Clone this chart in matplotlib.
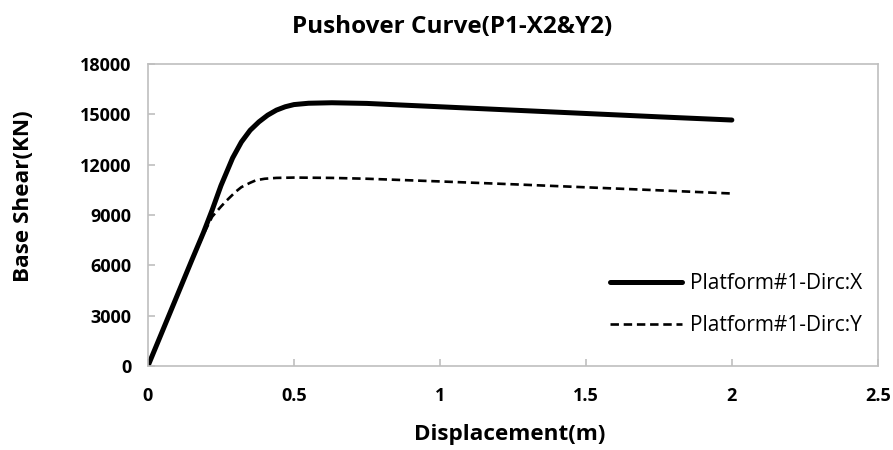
import matplotlib.pyplot as plt

plt.rcParams['font.family'] = ['Open Sans', 'DejaVu Sans']

# Platform#1 - direction X
disp_x = [0, 0.05, 0.1, 0.15, 0.19, 0.22, 0.25, 0.29, 0.32, 0.35, 0.38, 0.41,
          0.44, 0.47, 0.5, 0.55, 0.63, 0.75, 0.86, 1.0, 1.25, 1.5, 1.75, 2.0]
shear_x = [0, 2100, 4200, 6300, 7950, 9300, 10750, 12400, 13350, 14050, 14550,
           14950, 15250, 15450, 15580, 15660, 15690, 15650, 15560, 15450, 15250,
           15050, 14850, 14660]

# Platform#1 - direction Y
disp_y = [0, 0.05, 0.1, 0.15, 0.19, 0.22, 0.25, 0.27, 0.3, 0.32, 0.35, 0.37,
          0.4, 0.44, 0.5, 0.63, 0.75, 0.86, 1.0, 1.25, 1.5, 1.75, 2.0]
shear_y = [0, 2100, 4200, 6250, 7850, 8900, 9500, 9870, 10380, 10660, 10920,
           11070, 11160, 11210, 11230, 11210, 11160, 11090, 11000, 10830, 10650,
           10470, 10280]

x_ticks = [0, 0.5, 1, 1.5, 2, 2.5]
x_tick_labels = ['0', '0.5', '1', '1.5', '2', '2.5']
y_ticks = [0, 3000, 6000, 9000, 12000, 15000, 18000]

fig = plt.figure(figsize=(8.93, 4.5), dpi=100)
ax = fig.add_axes([0.1657, 0.1867, 0.8173, 0.6711])

ax.plot(disp_x, shear_x, color='black', lw=3.6, solid_capstyle='round',
        solid_joinstyle='round', label='Platform#1-Dirc:X')
ax.plot(disp_y, shear_y, color='black', lw=1.9, dashes=(3.2, 1.8),
        label='Platform#1-Dirc:Y')

ax.set_xlim(0, 2.5)
ax.set_ylim(0, 18000)
ax.set_xticks(x_ticks)
ax.set_xticklabels(x_tick_labels)
ax.set_yticks(y_ticks)

for s in ax.spines.values():
    s.set_color('#bfbfbf')
    s.set_linewidth(1.2)
ax.tick_params(direction='in', length=5, color='#bfbfbf', width=1.2,
               labelsize=13)
ax.tick_params(axis='y', pad=12)
ax.tick_params(axis='x', pad=15)
for lab in ax.get_xticklabels() + ax.get_yticklabels():
    lab.set_fontweight('bold')

fig.text(0.506, 0.94, 'Pushover Curve(P1-X2&Y2)', fontsize=17.5, fontweight='bold',
         ha='center', va='center')
ax.set_xlabel('Displacement(m)', fontsize=16.2, fontweight='bold', va='center')
ax.xaxis.set_label_coords(0.496, -0.228)
ax.set_ylabel('Base Shear(KN)', fontsize=16.2, fontweight='bold', va='center')
ax.yaxis.set_label_coords(-0.170, 0.563)

ax.legend(loc='lower right', frameon=False, fontsize=15, handlelength=3.45,
          handletextpad=0.38, labelspacing=1.0, borderpad=0, borderaxespad=0,
          bbox_to_anchor=(0.978, 0.099))

fig.savefig('out.png', dpi=100)
